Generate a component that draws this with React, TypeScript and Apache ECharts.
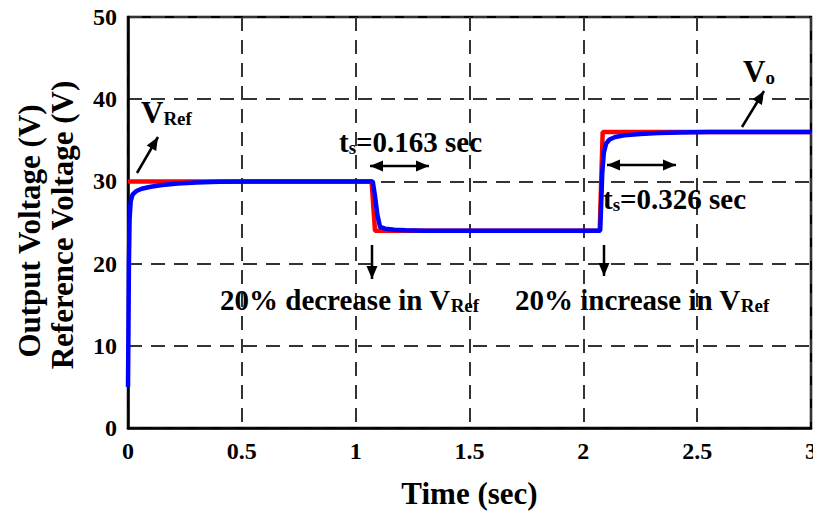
import React, { useEffect, useRef } from 'react';
import * as echarts from 'echarts';

// Reference voltage V_Ref (time in s, volts)
const refTime = [0, 1.07, 1.085, 2.072, 2.085, 3];
const refVolt = [30, 30, 24, 24, 36, 36];

// Output voltage V_o (time in s, volts)
const outTime = [0, 0.002, 0.004, 0.007, 0.012, 0.02, 0.035, 0.06, 0.1, 0.15, 0.22, 0.3, 0.4, 0.55, 1.075, 1.085, 1.095, 1.107, 1.13, 1.17, 1.22, 1.3, 2.074, 2.078, 2.083, 2.09, 2.1, 2.115, 2.14, 2.18, 2.25, 2.33, 2.42, 2.55, 3];
const outVolt = [5, 12, 20, 25.5, 27.6, 28.4, 28.8, 29.1, 29.35, 29.55, 29.75, 29.88, 29.96, 30, 30, 28.2, 26, 24.45, 24.25, 24.12, 24.05, 24, 24, 27, 31, 33.5, 34.6, 35.1, 35.4, 35.6, 35.78, 35.88, 35.95, 36, 36];

const xTicks = ['0', '0.5', '1', '1.5', '2', '2.5', '3'];
const yTicks = ['0', '10', '20', '30', '40', '50'];

const FONT = '"Liberation Serif", "Times New Roman", serif';

function head(x: number, y: number, fx: number, fy: number, len = 13, hw = 5.5) {
  const dx = x - fx, dy = y - fy;
  const d = Math.hypot(dx, dy) || 1;
  const ux = dx / d, uy = dy / d;
  const bx = x - ux * len, by = y - uy * len;
  return {
    type: 'polygon',
    shape: { points: [[x, y], [bx - uy * hw, by + ux * hw], [bx + uy * hw, by - ux * hw]] },
    style: { fill: '#000' },
    z: 100,
  };
}

function arrow(x1: number, y1: number, x2: number, y2: number, both = false) {
  const els: any[] = [
    { type: 'line', shape: { x1, y1, x2, y2 }, style: { stroke: '#000', lineWidth: 2.5 }, z: 100 },
    head(x2, y2, x1, y1),
  ];
  if (both) els.push(head(x1, y1, x2, y2));
  return els;
}

const rich = {
  m: { fontFamily: FONT, fontWeight: 'bold', fontSize: 29, color: '#111' },
  big: { fontFamily: FONT, fontWeight: 'bold', fontSize: 31, color: '#111' },
  sub: { fontFamily: FONT, fontWeight: 'bold', fontSize: 19, color: '#111', verticalAlign: 'bottom', padding: [11, 0, 0, 0] },
};

function label(text: string, x: number, y: number, align = 'left') {
  return {
    type: 'text',
    x,
    y,
    z: 100,
    style: { text, rich, textAlign: align, textVerticalAlign: 'middle', fontFamily: FONT },
  };
}

export default function App() {
  const ref = useRef<HTMLDivElement>(null);
  useEffect(() => {
    if (!ref.current) return;
    const chart = echarts.init(ref.current, null, { renderer: 'svg' });
    const gridLine = { show: true, lineStyle: { color: '#333', width: 2, type: [14, 9] as any } };
    const option: any = {
      animation: false,
      backgroundColor: '#fff',
      grid: { left: 128, top: 17, right: 10, bottom: 93, show: true, borderColor: '#000', borderWidth: 2.5, backgroundColor: 'transparent' },
      xAxis: {
        type: 'value',
        min: 0,
        max: 3,
        interval: 0.5,
        axisLine: { show: true, lineStyle: { color: '#000', width: 2.5 } },
        axisTick: { show: false },
        splitLine: gridLine,
        axisLabel: {
          fontFamily: FONT,
          fontWeight: 'bold',
          fontSize: 24,
          color: '#000',
          margin: 11,
          formatter: (v: number) => xTicks[Math.round(v * 2)] ?? '',
        },
        name: 'Time (sec)',
        nameLocation: 'middle',
        nameGap: 50,
        nameTextStyle: { fontFamily: FONT, fontWeight: 'bold', fontSize: 31, color: '#000' },
      },
      yAxis: {
        type: 'value',
        min: 0,
        max: 50,
        interval: 10,
        axisLine: { show: true, lineStyle: { color: '#000', width: 2.5 } },
        axisTick: { show: false },
        splitLine: gridLine,
        axisLabel: {
          fontFamily: FONT,
          fontWeight: 'bold',
          fontSize: 24,
          color: '#000',
          margin: 11,
          formatter: (v: number) => yTicks[Math.round(v / 10)] ?? '',
        },
      },
      series: [
        {
          type: 'line',
          name: 'V_Ref',
          data: refTime.map((t, i) => [t, refVolt[i]]),
          showSymbol: false,
          lineStyle: { color: '#ff0000', width: 4.5 },
          z: 3,
        },
        {
          type: 'line',
          name: 'V_o',
          data: outTime.map((t, i) => [t, outVolt[i]]),
          showSymbol: false,
          lineStyle: { color: '#0000ff', width: 4.5 },
          z: 4,
        },
      ],
      graphic: [
        {
          type: 'text',
          x: 29,
          y: 231,
          rotation: Math.PI / 2,
          style: { text: 'Output Voltage (V)', fontFamily: FONT, fontWeight: 'bold', fontSize: 31, fill: '#000', textAlign: 'center', textVerticalAlign: 'middle' },
        },
        {
          type: 'text',
          x: 62,
          y: 225,
          rotation: Math.PI / 2,
          style: { text: 'Reference Voltage (V)', fontFamily: FONT, fontWeight: 'bold', fontSize: 31, fill: '#000', textAlign: 'center', textVerticalAlign: 'middle' },
        },
        label('{big|V}{sub|Ref}', 141, 112),
        ...arrow(137, 173, 158, 137),
        label('{big|V}{sub|o}', 743, 71),
        ...arrow(742, 127, 764, 91),
        label('{m|t}{sub|s}{m|=0.163 sec}', 339, 142),
        ...arrow(370, 166, 429, 166, true),
        label('{m|t}{sub|s}{m|=0.326 sec}', 603, 199),
        ...arrow(607, 165, 676, 165, true),
        ...arrow(372, 245, 372, 279),
        label('{m|20% decrease in V}{sub|Ref}', 220, 300),
        ...arrow(604, 245, 604, 276),
        label('{m|20% increase in V}{sub|Ref}', 515, 300),
      ],
    };
    chart.setOption(option);
    return () => chart.dispose();
  }, []);
  return <div ref={ref} style={{ width: 821, height: 521, margin: -8 }} />;
}
